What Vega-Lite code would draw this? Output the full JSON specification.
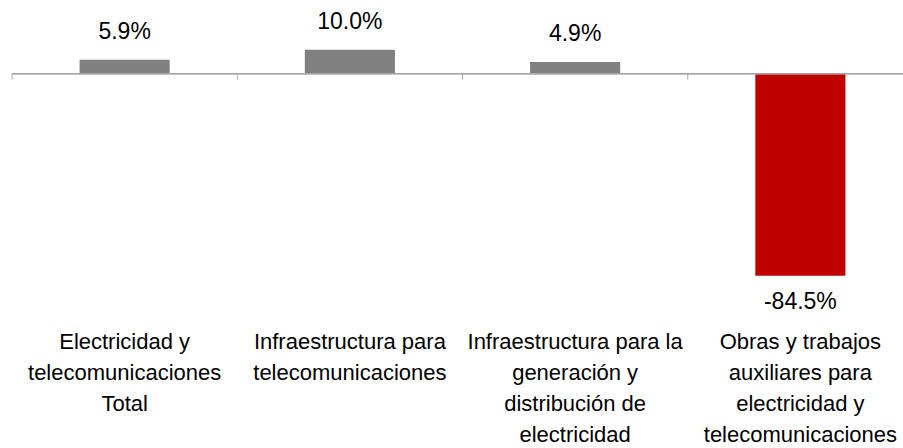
{
  "$schema": "https://vega.github.io/schema/vega-lite/v6.json",
  "width": 901,
  "height": 287,
  "autosize": {"type": "none"},
  "padding": {"left": 12, "top": 2, "right": 0, "bottom": 159},
  "background": "white",
  "config": {"view": {"stroke": null}, "font": "Liberation Sans"},
  "data": {"values": [
    {"cat": "Electricidad y|telecomunicaciones|Total", "value": 5.9},
    {"cat": "Infraestructura para|telecomunicaciones", "value": 10.0},
    {"cat": "Infraestructura para la|generación y|distribución de|electricidad", "value": 4.9},
    {"cat": "Obras y trabajos|auxiliares para|electricidad y|telecomunicaciones", "value": -84.5}
  ]},
  "transform": [{"calculate": "replace(format(datum.value, '.1f'), '\u2212', '-') + '%'", "as": "lbl"}],
  "encoding": {
    "x": {"field": "cat", "type": "nominal", "sort": null,
      "scale": {"paddingInner": 0, "paddingOuter": 0},
      "axis": {"title": null, "orient": "bottom", "domain": false, "ticks": false,
        "labelAngle": 0, "labelExpr": "split(datum.label, '|')", "labelFont": "Liberation Sans",
        "labelFontSize": 22, "labelLineHeight": 31, "labelColor": "#000000", "labelPadding": 42,
        "labelBaseline": "top", "labelLimit": 0}}
  },
  "layer": [
    {"mark": {"type": "bar", "width": {"band": 0.4}},
     "encoding": {
       "y": {"field": "value", "type": "quantitative", "scale": {"domain": [-90, 30], "nice": false, "zero": true}, "axis": null},
       "color": {"condition": {"test": "datum.value < 0", "value": "#c00000"}, "value": "#808080"}
     }},
    {"mark": {"type": "rule", "color": "#a6a6a6", "strokeWidth": 1},
     "encoding": {"x": null, "y": {"datum": 0, "type": "quantitative"}}},
    {"mark": {"type": "rule", "color": "#a6a6a6", "strokeWidth": 1},
     "encoding": {"x": {"field": "cat", "type": "nominal", "sort": null, "bandPosition": 0}, "y": {"datum": 0, "type": "quantitative"}, "y2": {"datum": -2.4}}},
    {"transform": [{"filter": "datum.value >= 0"}],
     "mark": {"type": "text", "baseline": "bottom", "dy": -16, "fontSize": 23, "font": "Liberation Sans", "color": "#000000"},
     "encoding": {"y": {"field": "value", "type": "quantitative"}, "text": {"field": "lbl"}}},
    {"transform": [{"filter": "datum.value < 0"}],
     "mark": {"type": "text", "baseline": "top", "dy": 15, "fontSize": 23, "font": "Liberation Sans", "color": "#000000"},
     "encoding": {"y": {"field": "value", "type": "quantitative"}, "text": {"field": "lbl"}}}
  ]
}
